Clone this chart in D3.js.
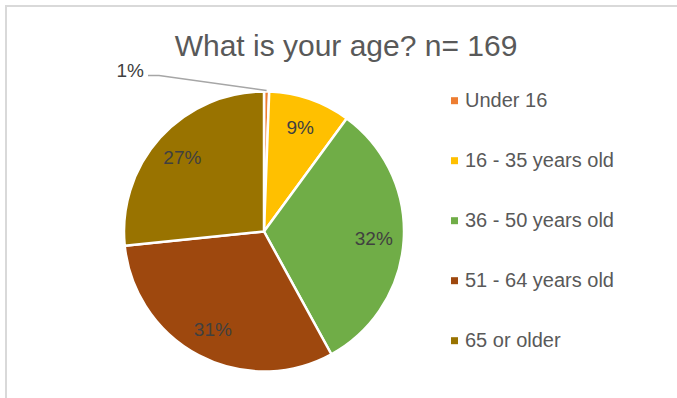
<!DOCTYPE html>
<html>
<head>
<meta charset="utf-8">
<script src="https://cdn.jsdelivr.net/npm/d3@7"></script>
<style>
  html, body { margin: 0; padding: 0; background: #fff; }
  svg { display: block; font-family: "Liberation Sans", Arial, sans-serif; }
</style>
</head>
<body>
<svg id="chart" width="677" height="398"></svg>
<script>
// Survey responses by age group (n = 169)
const categories = ["Under 16", "16 - 35 years old", "36 - 50 years old", "51 - 64 years old", "65 or older"];
const counts = [1, 16, 54, 53, 45];
const colors = ["#ED7D31", "#FFC000", "#70AD47", "#9E480E", "#997300"];
const title = "What is your age? n= 169";

const svg = d3.select("#chart");
const W = 677, H = 398;

// chart-area frame (only top and left edges fall inside the view)
svg.append("rect")
  .attr("x", 6).attr("y", 6)
  .attr("width", W + 20).attr("height", H + 20)
  .attr("fill", "#fff")
  .attr("stroke", "#d9d9d9")
  .attr("stroke-width", 2);

svg.append("text")
  .attr("x", 346).attr("y", 56)
  .attr("text-anchor", "middle")
  .attr("font-size", 30)
  .attr("fill", "#595959")
  .text(title);

const total = d3.sum(counts);
const cx = 264, cy = 231.5, R = 140;

const pie = d3.pie().sort(null).value(d => d.value);
const data = categories.map((c, i) => ({ cat: c, value: counts[i], color: colors[i] }));
const arcs = pie(data);

const arc = d3.arc().innerRadius(0).outerRadius(R);
const labelArc = d3.arc().innerRadius(110).outerRadius(110);
const edgeArc = d3.arc().innerRadius(R + 1).outerRadius(R + 1);

const g = svg.append("g").attr("transform", `translate(${cx},${cy})`);

g.selectAll("path.slice")
  .data(arcs)
  .join("path")
  .attr("class", "slice")
  .attr("d", arc)
  .attr("fill", d => d.data.color)
  .attr("stroke", "#fff")
  .attr("stroke-width", 2.5)
  .attr("stroke-linejoin", "round");

const pct = d => Math.round(d.data.value / total * 100) + "%";
const small = d => d.data.value / total < 0.03;

// labels that fit inside their slice
g.selectAll("text.inside")
  .data(arcs.filter(d => !small(d)))
  .join("text")
  .attr("class", "inside")
  .attr("transform", d => `translate(${labelArc.centroid(d)})`)
  .attr("text-anchor", "middle")
  .attr("dy", "0.35em")
  .attr("font-size", 19)
  .attr("fill", "#404040")
  .text(pct);

// thin slices get a callout label with a leader line
const outside = arcs.filter(small);
const callout = { dx: -116, dy: -156 };
outside.forEach(d => {
  const [ex, ey] = edgeArc.centroid(d);
  const lx = callout.dx, ly = callout.dy;
  g.append("polyline")
    .attr("points", [[lx, ly], [lx + 11, ly], [ex, ey]].map(p => p.join(",")).join(" "))
    .attr("fill", "none")
    .attr("stroke", "#a6a6a6")
    .attr("stroke-width", 1.5);
  g.append("text")
    .attr("x", lx - 4).attr("y", ly)
    .attr("dy", "0.1em")
    .attr("text-anchor", "end")
    .attr("font-size", 19)
    .attr("fill", "#404040")
    .text(pct(d));
});

// legend
const legend = svg.append("g").attr("transform", "translate(451,100.7)");
const item = legend.selectAll("g")
  .data(data)
  .join("g")
  .attr("transform", (d, i) => `translate(0,${i * 60})`);
item.append("rect")
  .attr("x", 0).attr("y", -3.5)
  .attr("width", 7).attr("height", 7)
  .attr("fill", d => d.color);
item.append("text")
  .attr("x", 14).attr("y", 0)
  .attr("dy", "0.33em")
  .attr("font-size", 20)
  .attr("fill", "#595959")
  .text(d => d.cat);
</script>
</body>
</html>
